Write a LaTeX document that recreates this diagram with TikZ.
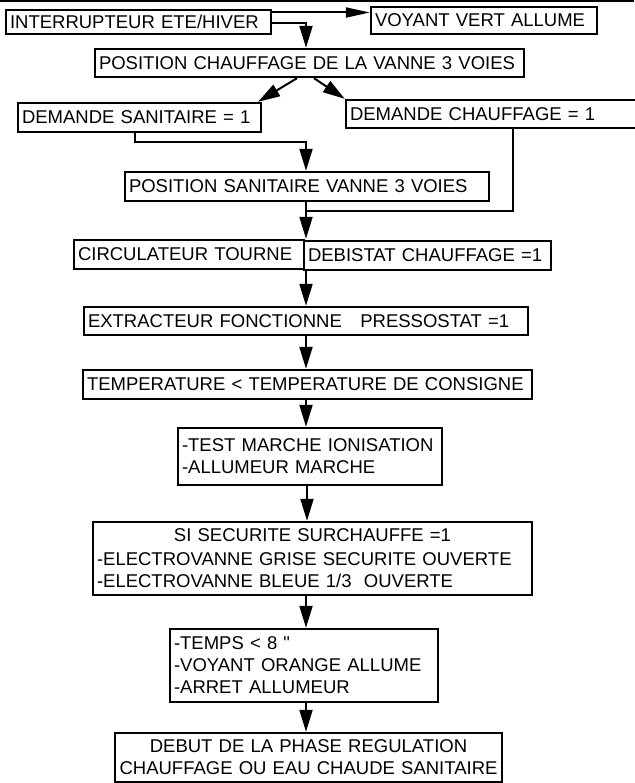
\documentclass[tikz,border=0pt]{standalone}
\usepackage{fontspec}
\newfontfamily\lsans{Liberation Sans}
\usetikzlibrary{arrows.meta}
\tikzset{
  box/.style={draw, line width=2.4pt, inner xsep=4pt, inner ysep=0pt, align=left,
    font=\lsans\fontsize{18.5}{22}\selectfont},
  arr/.style={line width=2pt, -{Triangle[length=22pt,width=13pt]}},
  arrh/.style={line width=2pt, -{Triangle[length=24pt,width=10pt]}},
  conn/.style={line width=2pt},
}
\begin{document}
\begin{tikzpicture}[x=1pt,y=-1pt]
\useasboundingbox (0,0) rectangle (634,783);
\fill (0,0) rectangle (634,2.5);
\coordinate (sp) at (306,0);

\node[box, minimum width=265pt, minimum height=24pt, text width=257pt] (b1) at (138.5,22) {INTERRUPTEUR ETE/HIVER};
\node[box, minimum width=226pt, minimum height=27pt, text width=218pt] (voyant) at (484,20.5) {VOYANT VERT ALLUME};
\node[box, minimum width=429pt, minimum height=28pt, text width=421pt] (pos) at (309.5,63) {POSITION CHAUFFAGE DE LA VANNE 3 VOIES};
\node[box, minimum width=243pt, minimum height=29pt, text width=235pt] (dsan) at (139.5,117.5) {DEMANDE SANITAIRE = 1};
\node[box, minimum width=294pt, minimum height=28pt, text width=286pt] (dch) at (493,114) {DEMANDE CHAUFFAGE = 1};
\node[box, minimum width=364pt, minimum height=29pt, text width=356pt] (possan) at (307,186.5) {POSITION SANITAIRE VANNE 3 VOIES};
\node[box, minimum width=230pt, minimum height=29pt, text width=222pt] (circ) at (189,254.5) {CIRCULATEUR TOURNE};
\node[box, minimum width=247pt, minimum height=29pt, text width=239pt] (deb) at (427.5,255.5) {DEBISTAT CHAUFFAGE =1};
\node[box, minimum width=444pt, minimum height=28pt, text width=436pt] (ext) at (306,321) {EXTRACTEUR FONCTIONNE\ \ \ PRESSOSTAT =1};
\node[box, minimum width=449pt, minimum height=29pt, text width=441pt] (temp) at (307.5,384.5) {TEMPERATURE < TEMPERATURE DE CONSIGNE};
\node[box, minimum width=264pt, minimum height=57pt, text width=256pt] (test) at (310,456.5) {-TEST MARCHE IONISATION\\-ALLUMEUR MARCHE};
\node[box, minimum width=439pt, minimum height=73pt, text width=431pt] (si) at (312.5,558.5) {\makebox[431pt]{SI SECURITE SURCHAUFFE =1}\\[2pt]-ELECTROVANNE GRISE SECURITE OUVERTE\\-ELECTROVANNE BLEUE 1/3\ \ OUVERTE};
\node[box, minimum width=268pt, minimum height=73pt, text width=260pt] (temps) at (304,665.5) {-TEMPS < 8 "\\-VOYANT ORANGE ALLUME\\-ARRET ALLUMEUR};
\node[box, align=center, minimum width=387pt, minimum height=49pt, text width=379pt] (debut) at (308.5,757.5) {DEBUT DE LA PHASE REGULATION\\CHAUFFAGE OU EAU CHAUDE SANITAIRE};

% connectors
\draw[arrh] (b1.east |- 0,12.5) -- (voyant.west |- 0,12.5);
\draw[arr] (b1.east |- 0,23) -| (pos.north -| sp);
\draw[arr] (pos.south -| 297,0) -- (dsan.north -| 258,0);
\draw[arr] (pos.south -| 314,0) -- (dch.north west);
\draw[arr] (dsan.south -| 135,0) |- (306,142) -- (possan.north -| sp);
\draw[conn] (dch.south -| 513,0) |- (306,211);
\draw[arr] (possan.south -| sp) -- (circ.north -| sp);
\draw[arr] (circ.south -| sp) -- (ext.north -| sp);
\draw[arr] (ext.south -| sp) -- (temp.north -| sp);
\draw[arr] (temp.south -| sp) -- (test.north -| sp);
\draw[arr] (test.south -| 307,0) -- (si.north -| 307,0);
\draw[arr] (si.south -| sp) -- (temps.north -| sp);
\draw[arr] (temps.south -| sp) -- (debut.north -| sp);
\end{tikzpicture}
\end{document}
